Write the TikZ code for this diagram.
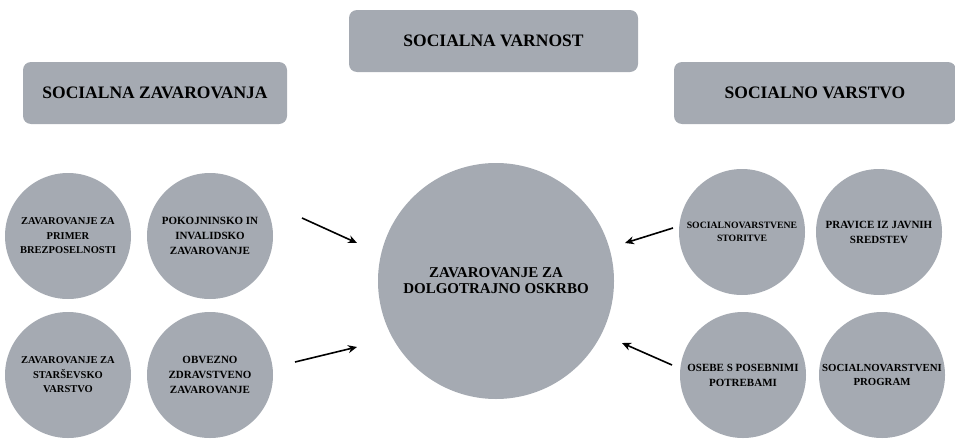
\documentclass[tikz,border=0pt]{standalone}
\usepackage{fontspec}
\setmainfont{Liberation Serif}
\usetikzlibrary{arrows.meta}
\definecolor{boxgray}{RGB}{165,170,178}
\begin{document}
\begin{tikzpicture}[x=1pt,y=-1pt,
    topic/.style={fill=boxgray,rounded corners=8pt,minimum height=62pt,
      font=\bfseries\fontsize{17.5}{20}\selectfont},
    area/.style={circle,fill=boxgray,minimum size=126pt,inner sep=0pt,align=center,
      font=\bfseries\fontsize{11}{15}\selectfont},
    main/.style={circle,fill=boxgray,minimum size=236pt,inner sep=0pt,align=center,
      font=\bfseries\fontsize{15}{16}\selectfont},
    feed/.style={-{Stealth[length=9pt,width=8pt]},line width=1.6pt}]
      \useasboundingbox (0,0) rectangle (955,439);
      \node[topic,minimum width=289pt] (varnost) at (493.5,41) {SOCIALNA VARNOST};
      \node[topic,minimum width=264pt] (zavarovanja) at (155,93) {SOCIALNA ZAVAROVANJA};
      \node[topic,minimum width=282pt] (varstvo) at (815,93) {SOCIALNO VARSTVO};
      \node[main] (oskrba) at (496,281) {ZAVAROVANJE ZA\\DOLGOTRAJNO OSKRBO};
      \node[area,font=\bfseries\fontsize{10.5}{14.5}\selectfont] (brezposelnost) at (68,236)
        {ZAVAROVANJE ZA\\PRIMER\\BREZPOSELNOSTI};
      \node[area] (pokojninsko) at (210,236) {POKOJNINSKO IN\\INVALIDSKO\\ZAVAROVANJE};
      \node[area,font=\bfseries\fontsize{10.5}{14.5}\selectfont] (starsevsko) at (68,375)
        {ZAVAROVANJE ZA\\STARŠEVSKO\\VARSTVO};
      \node[area] (zdravstveno) at (210,375) {OBVEZNO\\ZDRAVSTVENO\\ZAVAROVANJE};
      \node[area,font=\bfseries\fontsize{9.7}{13.5}\selectfont] (storitve) at (742,232)
        {SOCIALNOVARSTVENE\\STORITVE};
      \node[area] (pravice) at (879,232) {PRAVICE IZ JAVNIH\\SREDSTEV};
      \node[area] (osebe) at (743,375) {OSEBE S POSEBNIMI\\POTREBAMI};
      \node[area,font=\bfseries\fontsize{10.8}{13.5}\selectfont] (program) at (882,375)
        {SOCIALNOVARSTVENI\\PROGRAM};
      \coordinate (lt) at (302,218);
      \coordinate (ltend) at (357,243);
      \coordinate (lb) at (295,362);
      \coordinate (lbend) at (357,347);
      \coordinate (rt) at (673,228);
      \coordinate (rtend) at (625,243);
      \coordinate (rb) at (672,365);
      \coordinate (rbend) at (622,343);
      \begin{scope}[feed]
        \draw (lt) to (ltend);
        \draw (lb) to (lbend);
        \draw (rt) to (rtend);
        \draw (rb) to (rbend);
      \end{scope}
    \end{tikzpicture}
\end{document}
